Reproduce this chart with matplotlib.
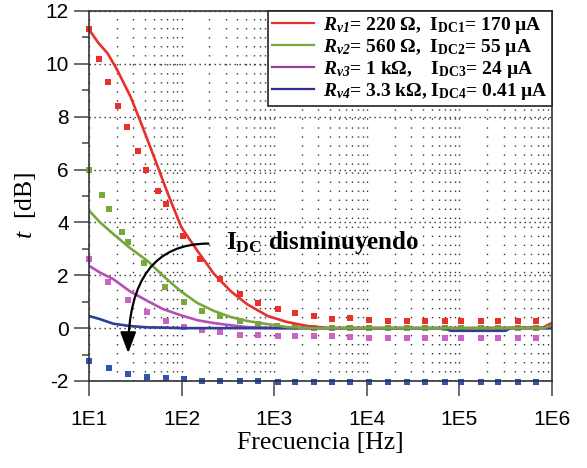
import numpy as np
import matplotlib
matplotlib.use('Agg')
import matplotlib.pyplot as plt

plt.rcParams['font.family'] = 'Liberation Sans'
plt.rcParams['axes.unicode_minus'] = False
plt.rcParams['mathtext.fontset'] = 'custom'
plt.rcParams['mathtext.rm'] = 'Liberation Serif'
plt.rcParams['mathtext.it'] = 'Liberation Serif:italic'
plt.rcParams['mathtext.bf'] = 'Liberation Serif:bold'
plt.rcParams['mathtext.bfit'] = 'Liberation Serif:bold:italic'

# measured curves (solid) : log10(f) and t [dB]
red_line_logf = [1.0, 1.1, 1.2, 1.3, 1.45, 1.58, 1.7, 1.85, 2.0, 2.17, 2.35, 2.53, 2.71, 2.93, 3.14, 3.36, 3.6, 4.0, 5.0, 5.9, 6.0]
red_line_t = [11.3, 10.8, 10.4, 9.8, 8.75, 7.6, 6.5, 5.1, 3.8, 2.93, 2.05, 1.4, 0.9, 0.46, 0.23, 0.08, 0.0, 0.0, 0.0, 0.02, 0.2]
green_line_logf = [1.0, 1.12, 1.26, 1.44, 1.63, 1.8, 1.99, 2.17, 2.35, 2.53, 2.71, 2.93, 3.14, 3.4, 4.0, 5.0, 5.9, 6.0]
green_line_t = [4.45, 4.0, 3.57, 3.04, 2.55, 1.98, 1.4, 0.95, 0.65, 0.42, 0.27, 0.15, 0.04, 0.0, 0.0, 0.0, 0.0, 0.1]
mag_line_logf = [1.0, 1.12, 1.26, 1.44, 1.63, 1.8, 1.99, 2.17, 2.35, 2.53, 2.71, 3.0, 4.0, 5.0, 6.0]
mag_line_t = [2.36, 2.1, 1.86, 1.4, 1.03, 0.72, 0.49, 0.3, 0.19, 0.11, 0.04, 0.0, 0.0, 0.0, 0.0]
blue_line_logf = [1.0, 1.12, 1.26, 1.44, 1.63, 1.8, 2.0, 3.0, 4.0, 4.85, 4.9, 5.5, 5.55, 6.0]
blue_line_t = [0.46, 0.34, 0.17, 0.08, 0.03, 0.02, 0.0, 0.0, 0.0, 0.0, -0.1, -0.1, 0.0, 0.0]

# simulated values (square dots)
red_dot_logf = [1.0, 1.11, 1.21, 1.31, 1.41, 1.53, 1.62, 1.75, 1.83, 2.02, 2.2, 2.41, 2.63, 2.82, 3.04, 3.23, 3.43,
                3.62, 3.82, 4.02, 4.23, 4.43, 4.63, 4.84, 5.02, 5.23, 5.42, 5.63, 5.83]
red_dot_t = [11.3, 10.2, 9.3, 8.4, 7.6, 6.7, 6.0, 5.2, 4.7, 3.5, 2.6, 1.86, 1.3, 0.95, 0.72, 0.57, 0.46,
             0.36, 0.39, 0.3, 0.27, 0.27, 0.27, 0.27, 0.27, 0.27, 0.27, 0.27, 0.27]
green_dot_logf = [1.0, 1.14, 1.22, 1.36, 1.42, 1.59, 1.82, 2.03, 2.22, 2.42, 2.63, 2.82, 3.03, 3.23, 3.43,
                  3.62, 3.82, 4.02, 4.23, 4.43, 4.63, 4.84, 5.02, 5.23, 5.42, 5.63, 5.83]
green_dot_t = [6.0, 5.05, 4.5, 3.65, 3.27, 2.47, 1.56, 1.0, 0.65, 0.46, 0.27, 0.15, 0.08, 0.03, 0.02,
               0.02, 0.02, 0.02, 0.02, 0.02, 0.02, 0.02, 0.02, 0.02, 0.02, 0.02, 0.02]
mag_dot_logf = [1.0, 1.21, 1.42, 1.63, 1.83, 2.03, 2.22, 2.42, 2.63, 2.83, 3.04, 3.23, 3.43,
                3.62, 3.82, 4.02, 4.23, 4.43, 4.63, 4.84, 5.02, 5.23, 5.42, 5.63, 5.83]
mag_dot_t = [2.6, 1.75, 1.06, 0.61, 0.27, 0.04, -0.08, -0.15, -0.27, -0.27, -0.3, -0.3, -0.31,
             -0.3, -0.32, -0.37, -0.37, -0.37, -0.37, -0.37, -0.37, -0.37, -0.37, -0.37, -0.37]
blue_dot_logf = [1.0, 1.22, 1.42, 1.63, 1.83, 2.03, 2.22, 2.42, 2.63, 2.83, 3.04, 3.23, 3.43,
                 3.62, 3.82, 4.02, 4.23, 4.43, 4.63, 4.84, 5.02, 5.23, 5.42, 5.63, 5.83]
blue_dot_t = [-1.25, -1.52, -1.75, -1.83, -1.9, -1.94, -2.0, -2.0, -2.01, -2.01, -2.02, -2.02, -2.02,
              -2.02, -2.02, -2.02, -2.02, -2.02, -2.02, -2.02, -2.02, -2.02, -2.02, -2.02, -2.02]

legend_labels = [r'$\mathbfit{R}_{\mathbfit{v1}}$= 220 Ω,  I$_{\mathbf{DC1}}$= 170 µA',
                 r'$\mathbfit{R}_{\mathbfit{v2}}$= 560 Ω,  I$_{\mathbf{DC2}}$= 55 µA',
                 r'$\mathbfit{R}_{\mathbfit{v3}}$= 1 kΩ,    I$_{\mathbf{DC3}}$= 24 µA',
                 r'$\mathbfit{R}_{\mathbfit{v4}}$= 3.3 kΩ, I$_{\mathbf{DC4}}$= 0.41 µA']
xticks = [1e1, 1e2, 1e3, 1e4, 1e5, 1e6]
xtick_labels = ['1E1', '1E2', '1E3', '1E4', '1E5', '1E6']
yticks = [-2, 0, 2, 4, 6, 8, 10, 12]

c_red = '#e8302c'
c_green = '#78a73c'
c_mag = '#b54fb5'
c_mag_dot = '#cc62c4'
c_blue = '#2c3f99'
c_blue_dot = '#3355b0'
c_purple_leg = '#9a3fa2'
c_navy_leg = '#2e3192'

fig = plt.figure(figsize=(5.87, 4.68), dpi=100)
ax = fig.add_axes([0.1516, 0.1859, 0.7888, 0.7906])

lw = 1.9
ms = 3.9
for lf, t, c in [(red_dot_logf, red_dot_t, c_red), (green_dot_logf, green_dot_t, c_green),
                 (mag_dot_logf, mag_dot_t, c_mag_dot), (blue_dot_logf, blue_dot_t, c_blue_dot)]:
    ax.plot(10**np.array(lf), t, 's', color=c, ms=ms, mew=0, zorder=3, clip_on=False)

ax.plot(10**np.array(red_line_logf), red_line_t, '-', color=c_red, lw=lw, zorder=4)
ax.plot(10**np.array(mag_line_logf), mag_line_t, '-', color=c_mag, lw=lw, zorder=4)
ax.plot(10**np.array(blue_line_logf), blue_line_t, '-', color=c_blue, lw=lw, zorder=4)
ax.plot(10**np.array(green_line_logf), green_line_t, '-', color=c_green, lw=lw, zorder=5)

# legend uses plain line handles
handles = [plt.Line2D([], [], color=c, lw=1.6) for c in [c_red, c_green, c_purple_leg, c_navy_leg]]
leg = ax.legend(handles, legend_labels, loc='upper right', bbox_to_anchor=(1, 1), borderaxespad=0,
                fancybox=False, framealpha=1, edgecolor='#222222', handlelength=2.15, handletextpad=0.5,
                labelspacing=0.05, borderpad=0.2,
                prop={'family': 'Liberation Serif', 'weight': 'bold', 'size': 14})
leg.get_frame().set_linewidth(1.2)
leg.set_zorder(10)

# annotation arrow
ax.annotate('', xy=(26.5, -0.95), xytext=(195, 3.2),
            arrowprops=dict(arrowstyle='-|>,head_length=0.8,head_width=0.3', color='black', lw=1.6,
                            connectionstyle='angle3,angleA=0,angleB=90', shrinkA=0, shrinkB=0,
                            mutation_scale=16),
            zorder=6)
ax.text(300, 3.25, r'I$_{\mathbf{DC}}$ disminuyendo', family='Liberation Serif', weight='bold',
        fontsize=18, va='center', ha='left', zorder=6)

ax.set_xscale('log')
ax.set_xlim(1e1, 1e6)
ax.set_ylim(-2, 12)
ax.set_xticks(xticks)
ax.set_xticklabels(xtick_labels)
ax.set_yticks(yticks)
ax.set_yticks(np.arange(-1, 12, 2), minor=True)

ax.grid(True, which='both', axis='x', color='#333333', linestyle=(0, (1, 5.5)), lw=1.0)
ax.grid(True, which='major', axis='y', color='#333333', linestyle=(0, (1, 2.6)), lw=1.0)

ax.tick_params(axis='x', which='major', direction='out', length=11, width=1.1, color='#444444',
               labelsize=15, pad=10)
ax.tick_params(axis='x', which='minor', length=0)
ax.tick_params(axis='y', which='major', direction='out', length=11, width=1.1, color='#444444',
               labelsize=15, pad=3.5)
ax.tick_params(axis='y', which='minor', direction='out', length=5, width=1.1, color='#444444')
for s in ax.spines.values():
    s.set_color('#333333')
    s.set_linewidth(1.2)
    s.set_zorder(7)

ax.set_xlabel('Frecuencia [Hz]', family='Liberation Serif', fontsize=18.5, labelpad=2)
ax.set_ylabel(r'$t$  [dB]', family='Liberation Serif', fontsize=18.5)
ax.yaxis.set_label_coords(-0.11, 0.476)

fig.savefig('out.png', dpi=100)
